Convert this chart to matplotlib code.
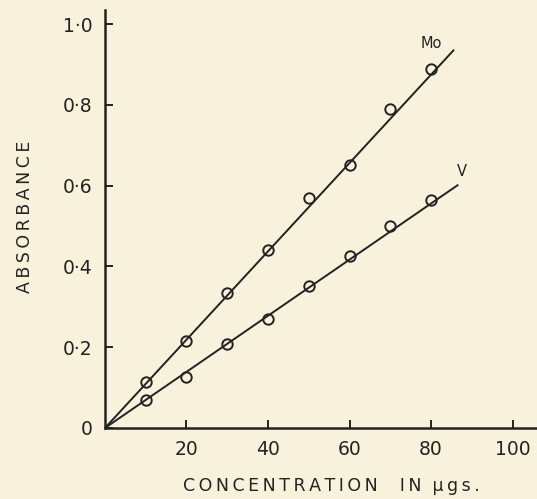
import matplotlib.pyplot as plt

# values
conc = [10, 20, 30, 40, 50, 60, 70, 80]
mo_abs = [0.115, 0.215, 0.335, 0.44, 0.57, 0.65, 0.79, 0.89]
v_abs = [0.069, 0.126, 0.208, 0.27, 0.351, 0.426, 0.50, 0.564]

# drawn calibration lines (through origin)
mo_line_x = [0, 85.5]
mo_line_y = [0, 0.935]
v_line_x = [0, 86.5]
v_line_y = [0, 0.601]

x_ticks = [20, 40, 60, 80, 100]
y_ticks = [0, 0.2, 0.4, 0.6, 0.8, 1.0]
y_labels = ['0', '0·2', '0·4', '0·6', '0·8', '1·0']

bg = '#f8f2dc'
ink = '#222222'

def spaced(s):
    # hand lettering on the original is widely spaced
    return '\u2009'.join(s)

fig = plt.figure(figsize=(5.37, 4.99), dpi=100, facecolor=bg)
ax = fig.add_axes([0.1955, 0.1423, 0.8045, 0.8377], facecolor=bg)

ax.plot(mo_line_x, mo_line_y, color=ink, lw=1.4)
ax.plot(v_line_x, v_line_y, color=ink, lw=1.4)
ax.plot(conc, mo_abs, 'o', ms=7.5, mfc='none', mec=ink, mew=1.4)
ax.plot(conc, v_abs, 'o', ms=7.5, mfc='none', mec=ink, mew=1.4)

ax.text(77.5, 0.953, 'Mo', fontsize=10.5, color=ink, ha='left', va='center')
ax.text(86.3, 0.636, 'V', fontsize=10.5, color=ink, ha='left', va='center')

ax.set_xlim(0, 106)
ax.set_ylim(0, 1.035)
for s in ['top', 'right']:
    ax.spines[s].set_visible(False)
for s in ['left', 'bottom']:
    ax.spines[s].set_color(ink)
    ax.spines[s].set_linewidth(1.8)

ax.set_xticks(x_ticks)
ax.set_yticks(y_ticks)
ax.set_yticklabels(y_labels)
ax.tick_params(direction='in', length=6, width=1.4, colors=ink, labelsize=13.5, pad=9)
ax.tick_params(axis='x', pad=9)

ax.set_xlabel(spaced('CONCENTRATION') + '    ' + spaced('IN') + '  ' + spaced('µgs.'),
              fontsize=12.5, color=ink)
ax.xaxis.set_label_coords(0.525, -0.118)
ax.set_ylabel(spaced('ABSORBANCE'), fontsize=12.5, color=ink)
ax.yaxis.set_label_coords(-0.165, 0.505)

plt.savefig('out.png', dpi=100, facecolor=bg)
